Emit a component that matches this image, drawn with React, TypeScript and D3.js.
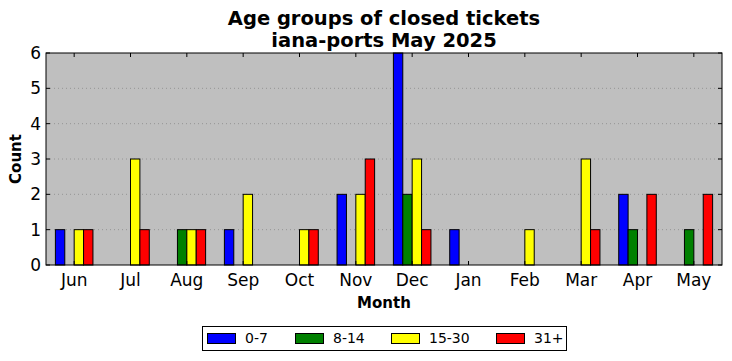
import React, { useEffect, useRef } from 'react';
import * as d3 from 'd3';

const months = ['Jun', 'Jul', 'Aug', 'Sep', 'Oct', 'Nov', 'Dec', 'Jan', 'Feb', 'Mar', 'Apr', 'May'];
const groups = ['0-7', '8-14', '15-30', '31+'];
const colors = ['#0000ff', '#008000', '#ffff00', '#ff0000'];
const age0to7 = [1, 0, 0, 1, 0, 2, 6, 1, 0, 0, 2, 0];
const age8to14 = [0, 0, 1, 0, 0, 0, 2, 0, 0, 0, 1, 1];
const age15to30 = [1, 3, 1, 2, 1, 2, 3, 0, 1, 3, 0, 0];
const age31plus = [1, 1, 1, 0, 1, 3, 1, 0, 0, 1, 2, 2];
const yTicks = [0, 1, 2, 3, 4, 5, 6];

const App = () => {
  const svgRef = useRef<SVGSVGElement>(null);

  useEffect(() => {
    if (!svgRef.current) return;
    const svg = d3.select(svgRef.current);
    svg.selectAll('*').remove();

    const left = 46, right = 722, top = 53, bottom = 265;
    const font = 'DejaVu Sans, sans-serif';
    const series = [age0to7, age8to14, age15to30, age31plus];

    const x = d3.scaleLinear().domain([-0.5, months.length - 0.5]).range([left, right]);
    const y = d3.scaleLinear().domain([0, 6]).range([bottom, top]);
    const w = 1 / 6;

    // axes background
    svg.append('rect')
      .attr('x', left).attr('y', top)
      .attr('width', right - left).attr('height', bottom - top)
      .attr('fill', '#bfbfbf');

    // grid
    svg.append('g').selectAll('line')
      .data(yTicks.slice(1, -1))
      .join('line')
      .attr('x1', left).attr('x2', right)
      .attr('y1', d => y(d)).attr('y2', d => y(d))
      .attr('stroke', '#8a8a8a')
      .attr('stroke-width', 0.8)
      .attr('stroke-dasharray', '1,3');

    // bars
    series.forEach((vals, si) => {
      svg.append('g').selectAll('rect')
        .data(vals)
        .join('rect')
        .attr('x', (d, i) => x(i + (si - 2) * w))
        .attr('y', d => y(d))
        .attr('width', x(w) - x(0))
        .attr('height', d => y(0) - y(d))
        .attr('fill', colors[si])
        .attr('stroke', '#000')
        .attr('stroke-width', 1);
    });

    // ticks (inside, all sides)
    const ticks = svg.append('g').attr('stroke', '#000').attr('stroke-width', 1);
    months.forEach((m, i) => {
      ticks.append('line').attr('x1', x(i)).attr('x2', x(i)).attr('y1', bottom).attr('y2', bottom - 4);
      ticks.append('line').attr('x1', x(i)).attr('x2', x(i)).attr('y1', top).attr('y2', top + 4);
    });
    yTicks.forEach(t => {
      ticks.append('line').attr('x1', left).attr('x2', left + 4).attr('y1', y(t)).attr('y2', y(t));
      ticks.append('line').attr('x1', right).attr('x2', right - 4).attr('y1', y(t)).attr('y2', y(t));
    });

    // frame
    svg.append('rect')
      .attr('x', left).attr('y', top)
      .attr('width', right - left).attr('height', bottom - top)
      .attr('fill', 'none').attr('stroke', '#000').attr('stroke-width', 1);

    // tick labels
    svg.append('g').selectAll('text')
      .data(yTicks)
      .join('text')
      .attr('x', left - 5)
      .attr('y', d => y(d))
      .attr('dy', '0.36em')
      .attr('text-anchor', 'end')
      .attr('font-family', font)
      .attr('font-size', 17)
      .text(d => d);

    svg.append('g').selectAll('text')
      .data(months)
      .join('text')
      .attr('x', (d, i) => x(i))
      .attr('y', bottom + 21)
      .attr('text-anchor', 'middle')
      .attr('font-family', font)
      .attr('font-size', 17)
      .text(d => d);

    // axis titles
    svg.append('text')
      .attr('x', (left + right) / 2).attr('y', 308)
      .attr('text-anchor', 'middle')
      .attr('font-family', font).attr('font-size', 15).attr('font-weight', 'bold')
      .text('Month');

    svg.append('text')
      .attr('transform', `translate(21,${(top + bottom) / 2}) rotate(-90)`)
      .attr('text-anchor', 'middle')
      .attr('font-family', font).attr('font-size', 15).attr('font-weight', 'bold')
      .text('Count');

    // title
    const title = svg.append('text')
      .attr('text-anchor', 'middle')
      .attr('font-family', font).attr('font-size', 19.5).attr('font-weight', 'bold');
    title.append('tspan').attr('x', (left + right) / 2).attr('y', 25).text('Age groups of closed tickets');
    title.append('tspan').attr('x', (left + right) / 2).attr('y', 47).text('iana-ports May 2025');

    // legend
    const legend = svg.append('g');
    legend.append('rect')
      .attr('x', 202.5).attr('y', 326.5).attr('width', 364).attr('height', 24)
      .attr('fill', '#fff').attr('stroke', '#000').attr('stroke-width', 1);
    const lx = [207, 295, 391, 496];
    groups.forEach((g, i) => {
      legend.append('rect')
        .attr('x', lx[i] + 0.5).attr('y', 333.5).attr('width', 28).attr('height', 10)
        .attr('fill', colors[i]).attr('stroke', '#000').attr('stroke-width', 1);
      legend.append('text')
        .attr('x', lx[i] + 38).attr('y', 343)
        .attr('font-family', font).attr('font-size', 14)
        .text(g);
    });
  }, []);

  return (
    <div>
      <svg ref={svgRef} width={732} height={361} style={{ display: 'block', position: 'absolute', left: 0, top: 0, background: '#fff' }}></svg>
    </div>
  );
};

export default App;
